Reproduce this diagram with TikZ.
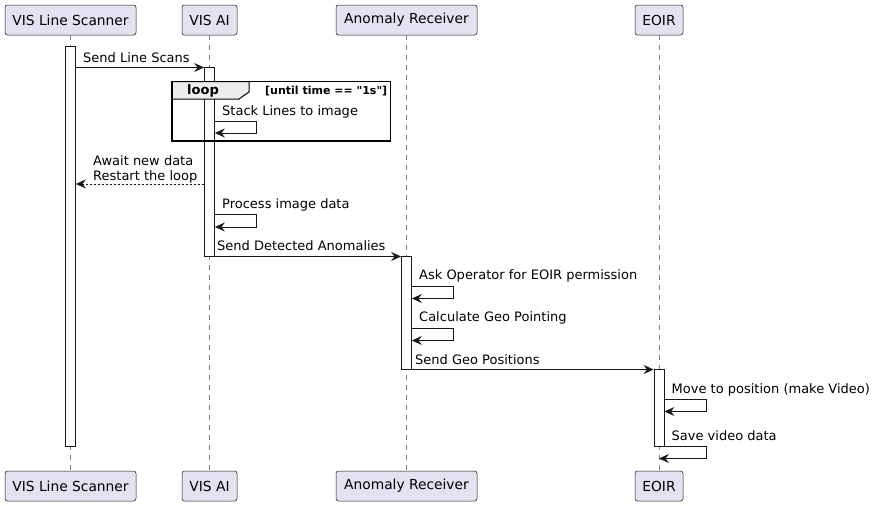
\documentclass[tikz,border=0pt]{standalone}
\usepackage{fontspec}
\setmainfont{DejaVu Sans}
\newfontfamily\condfont{DejaVu Sans}[Ligatures=ResetAll]
\usetikzlibrary{arrows.meta}
\definecolor{partfill}{HTML}{E2E2F0}
\definecolor{partline}{HTML}{181818}
\definecolor{tabfill}{HTML}{EEEEEE}
\definecolor{lifeline}{HTML}{7F7F7F}
\begin{document}
\begin{tikzpicture}[x=1pt,y=-1pt,
 part/.style={draw=partline, fill=partfill, rounded corners=2.5pt, minimum height=30pt, inner sep=0pt, font=\fontsize{13.8}{16}\selectfont, line width=0.5pt},
 life/.style={draw=lifeline, dash pattern=on 5pt off 5pt, line width=0.6pt},
 act/.style={draw=partline, fill=white, line width=0.8pt, minimum width=10pt, inner sep=0pt},
 msg/.style={-{Stealth[length=10pt,width=9pt,inset=3.5pt]}, line width=0.8pt, draw=partline},
 ret/.style={msg, dash pattern=on 2pt off 2pt},
 lbl/.style={font=\fontsize{13}{15}\selectfont, anchor=base west, inner sep=0pt, text=black}
]
\useasboundingbox (0,0) rectangle (876,506);
% participants
\node[part, minimum width=131pt] (t1) at (70.5,20) {VIS Line Scanner};
\node[part, minimum width=55pt] (t2) at (209.5,20) {VIS AI};
\node[part, minimum width=141pt] (t3) at (406.5,20) {Anomaly Receiver};
\node[part, minimum width=48pt] (t4) at (659,20) {EOIR};
\node[part, minimum width=131pt] (b1) at (70.5,486) {VIS Line Scanner};
\node[part, minimum width=55pt] (b2) at (209.5,486) {VIS AI};
\node[part, minimum width=141pt] (b3) at (406.5,486) {Anomaly Receiver};
\node[part, minimum width=48pt] (b4) at (659,486) {EOIR};
% lifelines
\draw[life] (t1.south) -- (b1.north);
\draw[life] (t2.south) -- (b2.north);
\draw[life] (t3.south) -- (b3.north);
\draw[life] (t4.south) -- (b4.north);
% activations
\node[act, minimum height=399.5pt] (a1) at (70.5,246.5) {};
\node[act, minimum height=189.5pt] (a2) at (209.5,162) {};
\node[act, minimum height=112.5pt] (a3) at (406.5,313) {};
\node[act, minimum height=76.5pt] (a4) at (659,408) {};
% loop frame
\filldraw[line width=1pt, draw=black, fill=tabfill] (172,81.5) -- (249,81.5) -- (249,92) -- (239,99) -- (172,99) -- cycle;
\draw[line width=1.5pt, draw=black] (172,81.5) rectangle (390.5,141);
\node[font=\fontsize{13}{15}\selectfont\bfseries, anchor=base, inner sep=0pt] (looplbl) at (203,94.5) {loop};
\node[font=\fontsize{11}{13}\condfont\bfseries, anchor=base west, inner sep=0pt] (loopcond) at (265,94.5) {[until time == "1s"]};
% messages
\draw[msg] (a1.east |- 0,67.5) -- (a2.west |- 0,67.5);
\node[lbl] (m1) at (83,62) {Send Line Scans};
\draw[msg] (a2.east |- 0,121) -| (256.5,133) -- (a2.east |- 0,133);
\node[lbl] (m2) at (222,115.5) {Stack Lines to image};
\draw[ret] (a2.west |- 0,184) -- (a1.east |- 0,184);
\node[lbl] (m3a) at (93,165) {Await new data};
\node[lbl] (m3b) at (93,180) {Restart the loop};
\draw[msg] (a2.east |- 0,214.5) -| (256.5,227) -- (a2.east |- 0,227);
\node[lbl] (m4) at (222,208.5) {Process image data};
\draw[msg] (a2.east |- 0,256.5) -- (a3.west |- 0,256.5);
\node[lbl] (m5) at (217,250.5) {Send Detected Anomalies};
\draw[msg] (a3.east |- 0,286) -| (453.5,298.5) -- (a3.east |- 0,298.5);
\node[lbl] (m6) at (419,279.5) {Ask Operator for EOIR permission};
\draw[msg] (a3.east |- 0,328) -| (453.5,340.5) -- (a3.east |- 0,340.5);
\node[lbl] (m7) at (419,321.5) {Calculate Geo Pointing};
\draw[msg] (a3.east |- 0,369.5) -- (a4.west |- 0,369.5);
\node[lbl] (m8) at (415,364) {Send Geo Positions};
\draw[msg] (a4.east |- 0,399) -| (706.5,411.5) -- (a4.east |- 0,411.5);
\node[lbl] (m9) at (671.5,393) {Move to position (make Video)};
\draw[msg] (a4.east |- 0,446) -| (706.5,458.5) -- (t4.south |- 0,458.5);
\node[lbl] (m10) at (671.5,440) {Save video data};
\end{tikzpicture}
\end{document}
